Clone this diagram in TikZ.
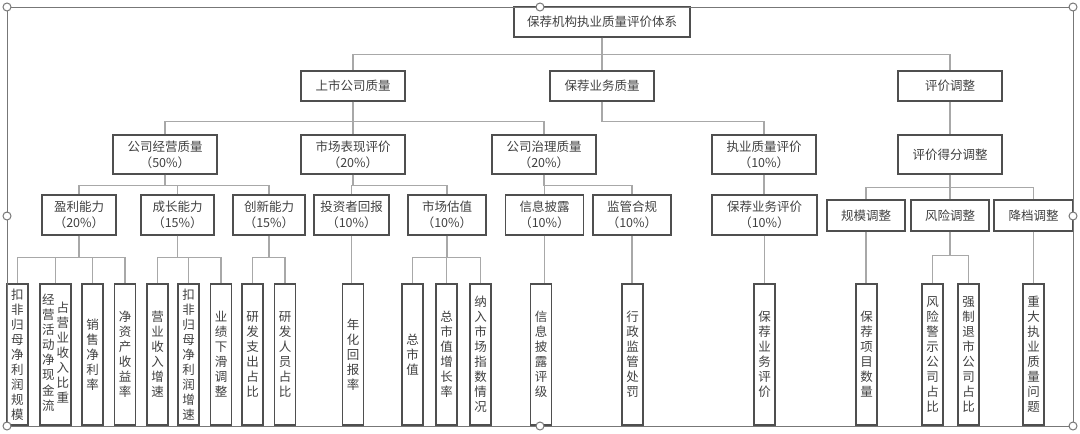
\documentclass[tikz,border=0pt]{standalone}
\usepackage{fontspec}
\newfontfamily\cjk{Noto Sans CJK SC}
\usepackage{tikz}
\usetikzlibrary{calc}
\definecolor{boxgrey}{HTML}{4F4F4F}
\definecolor{linkgrey}{HTML}{A8A8A8}
\definecolor{textgrey}{HTML}{404040}
\definecolor{framegrey}{HTML}{777777}
\tikzset{
  box/.style={draw=boxgrey, line width=1.2pt, align=center, inner sep=0pt, text=textgrey, font=\cjk\fontsize{12.5}{16}\selectfont},
  lvone/.style={box, minimum width=104pt, minimum height=30pt},
  lvtwo/.style={box, minimum width=104pt, minimum height=39pt},
  lvthree/.style={box, minimum height=40pt},
  adjbox/.style={box, minimum width=78pt, minimum height=31pt},
  leaf/.style={box, minimum width=21pt, minimum height=141pt, font=\cjk\fontsize{12.5}{15}\selectfont},
  link/.style={draw=linkgrey, line width=1.2pt},
  frameline/.style={draw=framegrey, line width=1pt},
  handle/.style={draw=framegrey, fill=white, line width=1pt}
}

\begin{document}
\begin{tikzpicture}[x=1pt, y=-1pt]
\useasboundingbox (0,0) rectangle (1080,434);
% ---- top ----
\node[box, minimum width=176pt, minimum height=30pt] (root) at (602,22) {保荐机构执业质量评价体系};
% ---- level 1 ----
\node[lvone] (ssgs) at (353,86) {上市公司质量};
\node[lvone] (bjyw) at (602,86) {保荐业务质量};
\node[lvone] (pjtz) at (950,86) {评价调整};
% ---- level 2 ----
\node[lvtwo] (gsjy) at (165,154.5) {公司经营质量\\（50\%）};
\node[lvtwo] (scbx) at (353,154.5) {市场表现评价\\（20\%）};
\node[lvtwo] (gszl) at (544,154.5) {公司治理质量\\（20\%）};
\node[lvtwo] (zyzl) at (764,154.5) {执业质量评价\\（10\%）};
\node[lvtwo] (pjdf) at (950,154.5) {评价得分调整};
% ---- level 3 ----
\node[lvthree, minimum width=74pt] (ylnl) at (79,215) {盈利能力\\（20\%）};
\node[lvthree, minimum width=73pt] (cznl) at (177.5,215) {成长能力\\（15\%）};
\node[lvthree, minimum width=72pt] (cxnl) at (269,215) {创新能力\\（15\%）};
\node[lvthree, minimum width=75pt] (tzhb) at (351.5,215) {投资者回报\\（10\%）};
\node[lvthree, minimum width=78pt] (scgz) at (447,215) {市场估值\\（10\%）};
\node[lvthree, minimum width=78pt] (xxpl) at (544.5,215) {信息披露\\（10\%）};
\node[lvthree, minimum width=78pt] (jghg) at (632,215) {监管合规\\（10\%）};
\node[lvthree, minimum width=105pt] (bjpj) at (764.5,215) {保荐业务评价\\（10\%）};
\node[adjbox] (gmtz) at (866,215.5) {规模调整};
\node[adjbox] (fxtz) at (950,215.5) {风险调整};
\node[adjbox, minimum width=79pt] (ddtz) at (1033.5,215.5) {降档调整};
% ---- leaves ----
\node[leaf] (kfgm) at (17.5,354.5) {扣\\非\\归\\母\\净\\利\\润\\规\\模};
\node[leaf, minimum width=31pt] (jyxj) at (55.5,354.5) {\begin{tabular}[c]{@{}c@{}}经\\营\\活\\动\\净\\现\\金\\流\end{tabular}\hspace{2pt}\begin{tabular}[c]{@{}c@{}}占\\营\\业\\收\\入\\比\\重\end{tabular}};
\node[leaf] (xsjl) at (92.5,354.5) {销\\售\\净\\利\\率};
\node[leaf] (jzsy) at (125,354.5) {净\\资\\产\\收\\益\\率};
\node[leaf] (yysr) at (157.5,354.5) {营\\业\\收\\入\\增\\速};
\node[leaf] (kfzs) at (188.5,354.5) {扣\\非\\归\\母\\净\\利\\润\\增\\速};
\node[leaf] (yjxh) at (221,354.5) {业\\绩\\下\\滑\\调\\整};
\node[leaf] (yfzc) at (252.5,354.5) {研\\发\\支\\出\\占\\比};
\node[leaf] (yfry) at (285,354.5) {研\\发\\人\\员\\占\\比};
\node[leaf] (nhhb) at (353,354.5) {年\\化\\回\\报\\率};
\node[leaf] (zsz) at (412.5,354.5) {总\\市\\值};
\node[leaf] (szzz) at (446.5,354.5) {总\\市\\值\\增\\长\\率};
\node[leaf] (nrzs) at (480.5,354.5) {纳\\入\\市\\场\\指\\数\\情\\况};
\node[leaf] (plpj) at (541,354.5) {信\\息\\披\\露\\评\\级};
\node[leaf] (xzcf) at (632.5,354.5) {行\\政\\监\\管\\处\\罚};
\node[leaf] (ywpj) at (764.5,354.5) {保\\荐\\业\\务\\评\\价};
\node[leaf] (xmsl) at (866.5,354.5) {保\\荐\\项\\目\\数\\量};
\node[leaf] (fxjs) at (932.5,354.5) {风\\险\\警\\示\\公\\司\\占\\比};
\node[leaf] (qztc) at (968.5,354.5) {强\\制\\退\\市\\公\\司\\占\\比};
\node[leaf] (zdwt) at (1033.5,354.5) {重\\大\\执\\业\\质\\量\\问\\题};
% ---- connectors ----
\draw[link] (root.south) -- ++(0,17) -| (ssgs.north);
\draw[link] (root.south) -- ++(0,17) -| (bjyw.north);
\draw[link] (root.south) -- ++(0,17) -| (pjtz.north);
\draw[link] (ssgs.south) -- ++(0,20) -| (gsjy.north);
\draw[link] (ssgs.south) -- ++(0,20) -| (scbx.north);
\draw[link] (ssgs.south) -- ++(0,20) -| (gszl.north);
\draw[link] (bjyw.south) -- ++(0,20) -| (zyzl.north);
\draw[link] (pjtz.south) -- (pjtz.south |- pjdf.north);
\draw[link] (gsjy.south) -- ++(0,11) -| (ylnl.north);
\draw[link] (gsjy.south) -- ++(0,11) -| (cznl.north);
\draw[link] (gsjy.south) -- ++(0,11) -| (cxnl.north);
\draw[link] (scbx.south) -- ++(0,11) -| (tzhb.north);
\draw[link] (scbx.south) -- ++(0,11) -| (scgz.north);
\draw[link] (gszl.south) -- ++(0,11) -| (xxpl.north);
\draw[link] (gszl.south) -- ++(0,11) -| (jghg.north);
\draw[link] (zyzl.south) -- (zyzl.south |- bjpj.north);
\draw[link] (pjdf.south) -- ++(0,13) -| (gmtz.north);
\draw[link] (pjdf.south) -- ++(0,13) -| (fxtz.north);
\draw[link] (pjdf.south) -- ++(0,13) -| (ddtz.north);
\draw[link] (ylnl.south) -- ++(0,22) -| (kfgm.north);
\draw[link] (ylnl.south) -- ++(0,22) -| (jyxj.north);
\draw[link] (ylnl.south) -- ++(0,22) -| (xsjl.north);
\draw[link] (ylnl.south) -- ++(0,22) -| (jzsy.north);
\draw[link] (cznl.south) -- ++(0,22) -| (yysr.north);
\draw[link] (cznl.south) -- ++(0,22) -| (kfzs.north);
\draw[link] (cznl.south) -- ++(0,22) -| (yjxh.north);
\draw[link] (cxnl.south) -- ++(0,22) -| (yfzc.north);
\draw[link] (cxnl.south) -- ++(0,22) -| (yfry.north);
\draw[link] (tzhb.south) -- (tzhb.south |- nhhb.north);
\draw[link] (scgz.south) -- ++(0,22) -| (zsz.north);
\draw[link] (scgz.south) -- ++(0,22) -| (szzz.north);
\draw[link] (scgz.south) -- ++(0,22) -| (nrzs.north);
\draw[link] (xxpl.south) -- (xxpl.south |- plpj.north);
\draw[link] (jghg.south) -- (jghg.south |- xzcf.north);
\draw[link] (bjpj.south) -- (bjpj.south |- ywpj.north);
\draw[link] (gmtz.south) -- (gmtz.south |- xmsl.north);
\draw[link] (fxtz.south) -- ++(0,24) -| (fxjs.north);
\draw[link] (fxtz.south) -- ++(0,24) -| (qztc.north);
\draw[link] (ddtz.south) -- (ddtz.south |- zdwt.north);
% ---- selection frame ----
\draw[frameline] (7,7) rectangle (1073,426);
\foreach \hx/\hy in {7/7, 540/7, 1073/7, 7/216, 1073/216, 7/426, 540/426, 1073/426}
  \draw[handle] (\hx,\hy) circle[radius=4pt];
\end{tikzpicture}
\end{document}
